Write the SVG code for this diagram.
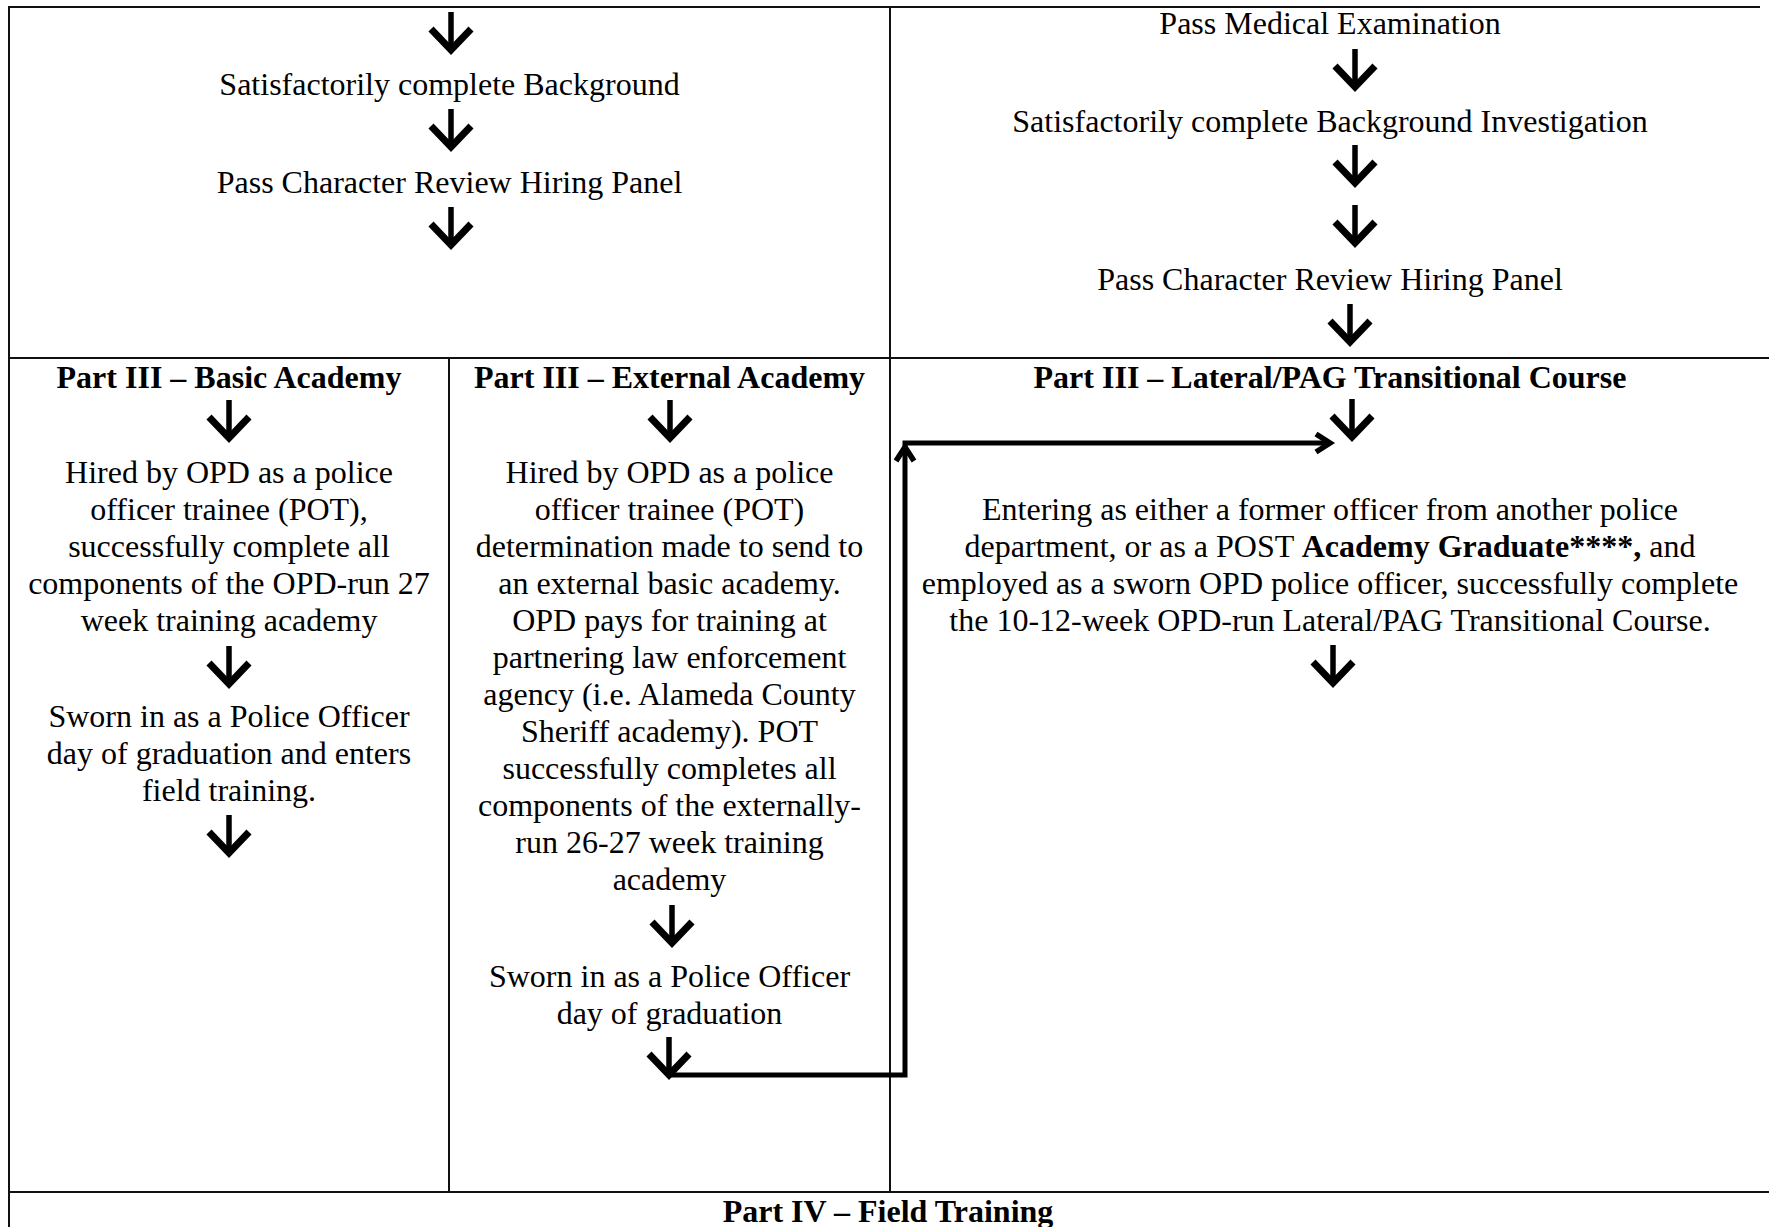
<svg xmlns="http://www.w3.org/2000/svg" xmlns:xlink="http://www.w3.org/1999/xlink" width="1769" height="1227" viewBox="0 0 1769 1227">
<style>
  text { font-family: "Liberation Serif", "Times New Roman", serif; font-size: 32px; fill: #000; text-anchor: middle; }
  .b { font-weight: bold; }
  .grid line { stroke: #111; stroke-width: 2; }
  .stem { stroke: #000; stroke-width: 5.5; fill: none; }
  .head { stroke: #000; stroke-width: 7; fill: none; stroke-linejoin: miter; stroke-miterlimit: 10; }
  .conn { stroke: #000; stroke-width: 5; fill: none; stroke-linejoin: miter; }
  .chev { stroke: #000; stroke-width: 5.5; fill: none; stroke-linejoin: miter; stroke-miterlimit: 10; }
</style>
<defs>
  <g id="dn">
    <path class="stem" d="M0,-43 V-6"/>
    <path class="head" d="M-20,-26 L0,-5 L20,-26"/>
  </g>
</defs>
<rect width="1769" height="1227" fill="#fff"/>

<g id="grid" class="grid">
  <line x1="9" y1="7" x2="1760" y2="7"/>
  <line x1="9" y1="358" x2="1769" y2="358"/>
  <line x1="9" y1="1192" x2="1769" y2="1192"/>
  <line x1="9" y1="6" x2="9" y2="1227"/>
  <line x1="890" y1="6" x2="890" y2="1192"/>
  <line x1="449" y1="358" x2="449" y2="1192"/>
</g>

<g id="part2-left">
  <text x="449.5" y="95">Satisfactorily complete Background</text>
  <text x="449.5" y="193">Pass Character Review Hiring Panel</text>
</g>

<g id="part2-right">
  <text x="1330" y="34">Pass Medical Examination</text>
  <text x="1330" y="132">Satisfactorily complete Background Investigation</text>
  <text x="1330" y="290">Pass Character Review Hiring Panel</text>
</g>

<g id="basic-academy">
  <text class="b" x="229" y="388">Part III – Basic Academy</text>
  <text x="229" y="483">Hired by OPD as a police</text>
  <text x="229" y="520">officer trainee (POT),</text>
  <text x="229" y="557">successfully complete all</text>
  <text x="229" y="594">components of the OPD-run 27</text>
  <text x="229" y="631">week training academy</text>
  <text x="229" y="727">Sworn in as a Police Officer</text>
  <text x="229" y="764">day of graduation and enters</text>
  <text x="229" y="801">field training.</text>
</g>

<g id="external-academy">
  <text class="b" x="669.5" y="388">Part III – External Academy</text>
  <text x="669.5" y="483">Hired by OPD as a police</text>
  <text x="669.5" y="520">officer trainee (POT)</text>
  <text x="669.5" y="557">determination made to send to</text>
  <text x="669.5" y="594">an external basic academy.</text>
  <text x="669.5" y="631">OPD pays for training at</text>
  <text x="669.5" y="668">partnering law enforcement</text>
  <text x="669.5" y="705">agency (i.e. Alameda County</text>
  <text x="669.5" y="742">Sheriff academy). POT</text>
  <text x="669.5" y="779">successfully completes all</text>
  <text x="669.5" y="816">components of the externally-</text>
  <text x="669.5" y="853">run 26-27 week training</text>
  <text x="669.5" y="890">academy</text>
  <text x="669.5" y="987">Sworn in as a Police Officer</text>
  <text x="669.5" y="1024">day of graduation</text>
</g>

<g id="lateral-course">
  <text class="b" x="1330" y="388">Part III – Lateral/PAG Transitional Course</text>
  <text x="1330" y="520">Entering as either a former officer from another police</text>
  <text x="1330" y="557">department, or as a POST <tspan class="b">Academy Graduate****,</tspan> and</text>
  <text x="1330" y="594">employed as a sworn OPD police officer, successfully complete</text>
  <text x="1330" y="631">the 10-12-week OPD-run Lateral/PAG Transitional Course.</text>
</g>

<g id="field-training">
  <text class="b" x="888" y="1222">Part IV – Field Training</text>
</g>

<g id="connectors">
  <use xlink:href="#dn" href="#dn" x="451" y="55"/>
  <use xlink:href="#dn" href="#dn" x="451" y="152"/>
  <use xlink:href="#dn" href="#dn" x="451" y="250"/>
  <use xlink:href="#dn" href="#dn" x="1355" y="92"/>
  <use xlink:href="#dn" href="#dn" x="1355" y="188"/>
  <use xlink:href="#dn" href="#dn" x="1355" y="248"/>
  <use xlink:href="#dn" href="#dn" x="1350" y="347"/>
  <use xlink:href="#dn" href="#dn" x="229" y="443"/>
  <use xlink:href="#dn" href="#dn" x="229" y="689"/>
  <use xlink:href="#dn" href="#dn" x="229" y="858"/>
  <use xlink:href="#dn" href="#dn" x="670" y="443"/>
  <use xlink:href="#dn" href="#dn" x="672" y="948"/>
  <use xlink:href="#dn" href="#dn" x="669" y="1080"/>
  <use xlink:href="#dn" href="#dn" x="1352" y="442"/>
  <use xlink:href="#dn" href="#dn" x="1333" y="688"/>
  <path class="conn" d="M669,1075 H905 V443 H1328"/>
  <path class="chev" d="M896,461 L905,447 L914,461"/>
  <path class="chev" d="M1316,434 L1330,443 L1316,452"/>
</g>
</svg>
